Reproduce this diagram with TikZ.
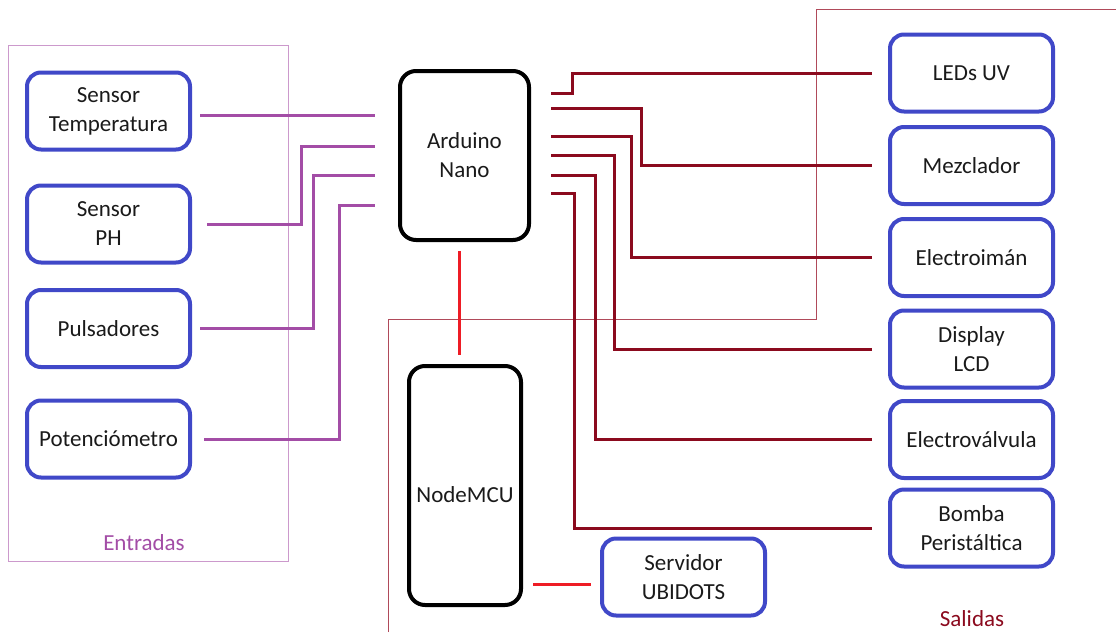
\documentclass[tikz,border=0pt]{standalone}
\usepackage{fontspec}
\setmainfont{Carlito}
\usetikzlibrary{positioning}
\definecolor{boxblue}{HTML}{4048C8}
\definecolor{inpurple}{HTML}{A34DA6}
\definecolor{framepurple}{HTML}{CC99CC}
\definecolor{outred}{HTML}{8B0A1E}
\definecolor{framered}{HTML}{B04A5A}
\definecolor{netred}{HTML}{EE1C25}
\definecolor{inktext}{HTML}{1A1A1A}

\begin{document}
\begin{tikzpicture}[x=1pt, y=-1pt,
    every node/.style={font=\fontsize{23}{29}\selectfont, text=inktext},
    device/.style={rectangle, rounded corners=14pt, draw=boxblue, line width=4pt,
        minimum width=163pt, minimum height=77pt, inner sep=2pt, align=center},
    board/.style={rectangle, rounded corners=16pt, draw=black, line width=4pt,
        inner sep=2pt, align=center},
    inwire/.style={draw=inpurple, line width=3pt, shorten >=23pt},
    outwire/.style={draw=outred, line width=3pt, shorten <=20pt, shorten >=16pt},
    netwire/.style={draw=netred, line width=3pt},
    zone/.style={line width=1pt},
]

\useasboundingbox (0,0) rectangle (1116,632);

% Zones
\draw[zone, draw=framepurple] (8,45) rectangle (288,561);
\node[text=inpurple] (entradas) at (144,543) {Entradas};
\draw[zone, draw=framered] (388,632) -- (388,319) -- (816,319) -- (816,9) -- (1116,9);
\node[text=outred] (salidas) at (972,619) {Salidas};

% Controllers
\node[board, minimum width=129pt, minimum height=169pt] (ard) at (464.5,155.5) {Arduino\\Nano};
\node[board, minimum width=112pt, minimum height=239pt, text height=35pt] (mcu) at (465,485.5) {NodeMCU};

% Inputs
\node[device] (temp) at (108.5,111) {Sensor\\Temperatura};
\node[device] (ph) at (108.5,224) {Sensor\\PH};
\node[device] (puls) at (108.5,328.5) {Pulsadores};
\node[device] (pot) at (108.5,439) {Potenciómetro};

% Outputs
\node[device] (leds) at (971.5,73) {LEDs UV};
\node[device] (mezc) at (971.5,165.5) {Mezclador};
\node[device] (iman) at (971.5,257.5) {Electroimán};
\node[device] (lcd) at (971.5,349) {Display\\LCD};
\node[device] (valv) at (971.5,439.5) {Electroválvula};
\node[device] (bomba) at (971.5,528) {Bomba\\Peristáltica};

% Server
\node[device] (srv) at (683.5,577) {Servidor\\UBIDOTS};

% Input wires
\draw[inwire, shorten <=8pt] ([yshift=-4pt]temp.east) -- ([yshift=-4pt]temp.east -| ard.west);
\draw[inwire, shorten <=15pt] (ph.east) -- ++(109,0) |- ([yshift=9.5pt]ard.west);
\draw[inwire, shorten <=8pt] (puls.east) -- ++(121,0) |- ([yshift=-19.5pt]ard.west);
\draw[inwire, shorten <=12pt] (pot.east) -- ++(147,0) |- ([yshift=-49.5pt]ard.west);

% Output wires
\draw[outwire] ([yshift=62.5pt]ard.east) -- ++(41,0) |- (leds.west);
\draw[outwire] ([yshift=47.5pt]ard.east) -- ++(110,0) |- (mezc.west);
\draw[outwire] ([yshift=19.5pt]ard.east) -- ++(100,0) |- (iman.west);
\draw[outwire] ([yshift=0.5pt]ard.east) -- ++(83,0) |- (lcd.west);
\draw[outwire] ([yshift=-19.5pt]ard.east) -- ++(64,0) |- (valv.west);
\draw[outwire] ([yshift=-37.5pt]ard.east) -- ++(43,0) |- (bomba.west);

% Network links
\draw[netwire, shorten <=9pt, shorten >=9pt] ([xshift=-5.5pt]ard.south) -- ([xshift=-5.5pt]ard.south |- mcu.north);
\draw[netwire, shorten <=10pt, shorten >=9pt] ([yshift=-7pt]srv.west -| mcu.east) -- ([yshift=-7pt]srv.west);

\end{tikzpicture}
\end{document}
